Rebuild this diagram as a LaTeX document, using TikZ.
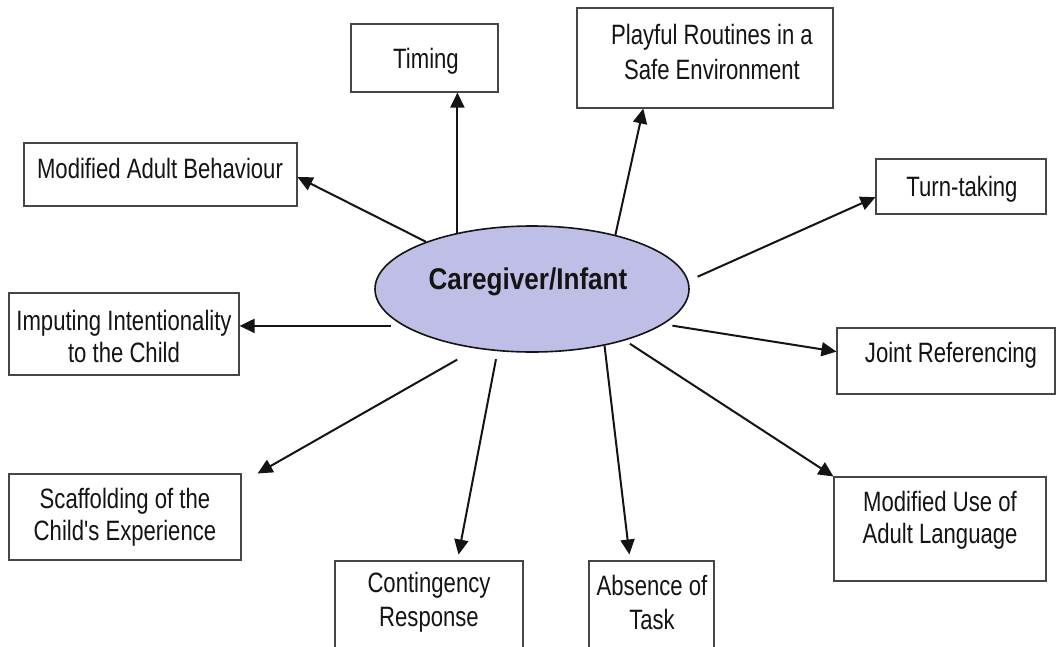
\documentclass[tikz,border=0pt]{standalone}
\usepackage{fontspec}
\setmainfont{Liberation Sans}
\newfontfamily\labfont[FakeStretch=0.79]{Liberation Sans}
\newfontfamily\cgfont[FakeStretch=0.87]{Liberation Sans}
\usetikzlibrary{arrows.meta,shapes.geometric,calc}
\definecolor{cgfill}{RGB}{190,190,230}
\definecolor{ink}{RGB}{20,20,20}
\definecolor{boxline}{RGB}{70,70,70}
\begin{document}
\begin{tikzpicture}[x=1pt,y=-1pt,
  box/.style={draw=boxline, line width=1.1pt, inner sep=0pt, fill=white},
  lab/.style={font=\labfont\fontsize{28}{32}\selectfont, align=center, text=ink, inner sep=0pt},
  conn/.style={draw=ink, line width=2pt, -{Triangle[length=15pt,width=14pt]}}]
\useasboundingbox (0,0) rectangle (1057,646);
\clip (0,0) rectangle (1057,646);
\fill[white] (0,0) rectangle (1057,646);

% boxes
\node[box, minimum width=147pt, minimum height=68pt]  (tim) at (424.5,58) {};
\node[box, minimum width=256pt, minimum height=100pt] (pla) at (705,58) {};
\node[box, minimum width=273pt, minimum height=63pt]  (mab) at (160.5,174.5) {};
\node[box, minimum width=170pt, minimum height=55pt]  (tur) at (961,186.5) {};
\node[box, minimum width=230pt, minimum height=82pt]  (imp) at (124,334) {};
\node[box, minimum width=218pt, minimum height=66pt]  (joi) at (946,361) {};
\node[box, minimum width=232pt, minimum height=86pt]  (sca) at (125,517) {};
\node[box, minimum width=212pt, minimum height=104pt] (mus) at (940,529) {};
\node[box, minimum width=188pt, minimum height=139pt] (con) at (429,630.5) {};
\node[box, minimum width=125pt, minimum height=139pt] (abs) at (651.5,630.5) {};

% texts
\node[lab] (timT) at (426,61) {Timing};
\node[lab, font=\labfont\fontsize{28}{35}\selectfont] (plaT) at (712,52) {Playful Routines in a\\Safe Environment};
\node[lab] (mabT) at (160,168) {Modified Adult Behaviour};
\node[lab] (turT) at (962,189) {Turn-taking};
\node[lab] (impT) at (124,336) {Imputing Intentionality\\to the Child};
\node[lab] (joiT) at (951,355) {Joint Referencing};
\node[lab] (scaT) at (125,517) {Scaffolding of the\\Child's Experience};
\node[lab] (musT) at (940,520) {Modified Use of\\Adult Language};
\node[lab, font=\labfont\fontsize{28}{34}\selectfont] (conT) at (429,602) {Contingency\\Response};
\node[lab, font=\labfont\fontsize{28}{34}\selectfont] (absT) at (652,602) {Absence of\\Task};

% centre
\node[ellipse, draw=ink, line width=1.6pt, fill=cgfill, minimum width=314pt, minimum height=126pt, inner sep=0pt] (cg) at (532,289) {};
\node[font=\cgfont\bfseries\fontsize{30}{32}\selectfont, text=ink, inner sep=0pt] (cgT) at (528,282) {Caregiver/Infant};

% connectors
\draw[conn] (cg.143.6) -- (cg.143.6 |- tim.south);
\draw[conn] (cg.33) -- ($(pla.south west)!0.26!(pla.south east)$);
\draw[conn] (cg.156) -- ($(mab.north east)!0.54!(mab.south east)$);
\draw[conn, shorten <=10pt] (cg.3.1) -- ($(tur.north west)!0.69!(tur.south west)$);
\draw[conn, shorten <=12pt] (cg.196.2) -- (cg.196.2 -| imp.east);
\draw[conn, shorten <=9pt] (cg.-15.6) -- ($(joi.north west)!0.36!(joi.south west)$);
\draw[conn, shorten <=6pt] (cg.-29.8) -- (mus.north west);
\draw[conn, shorten <=22pt] (cg.227) -- ($(sca.north east)+(16,0)$);
\draw[conn, shorten <=8pt, shorten >=6pt] (cg.241.6) -- ($(con.north west)!0.65!(con.north east)$);
\draw[conn, shorten >=6pt] (cg.-38.3) -- ($(abs.north west)!0.33!(abs.north east)$);
\end{tikzpicture}
\end{document}
